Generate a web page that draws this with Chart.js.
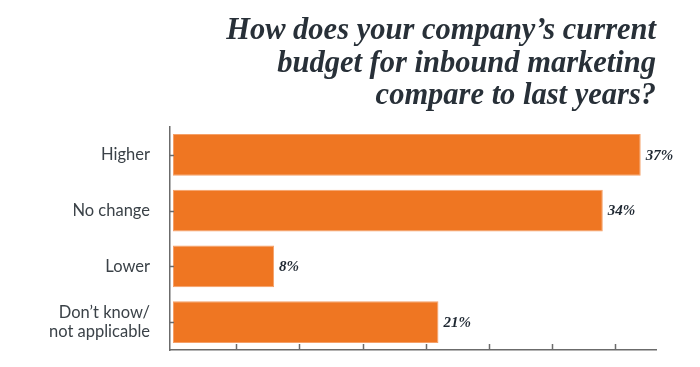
<!DOCTYPE html>
<html><head><meta charset="utf-8">
<script src="https://cdn.jsdelivr.net/npm/chart.js@4"></script>
<style>html,body{margin:0;padding:0;background:#fff}</style>
</head><body><canvas id="c" width="700" height="367"></canvas>
<script>
const categories = [["Higher"], ["No change"], ["Lower"], ["Don\u2019t know/", "not applicable"]];
const values = [37, 34, 8, 21];
const valueLabels = ["37%", "34%", "8%", "21%"];
const titleLines = ["How does your company\u2019s current", "budget for inbound marketing", "compare to last years?"];

const axisColor = '#6b6b6b';

const innerTicks = {
  id: 'innerTicks',
  afterDraw(chart) {
    const ctx = chart.ctx, xs = chart.scales.x, ys = chart.scales.y, ca = chart.chartArea;
    ctx.save();
    ctx.strokeStyle = axisColor; ctx.lineWidth = 1.5;
    xs.ticks.forEach(t => {
      if (t.value <= 0) return;
      const x = Math.round(xs.getPixelForValue(t.value)) + 0.5;
      ctx.beginPath(); ctx.moveTo(x, ca.bottom); ctx.lineTo(x, ca.bottom - 6); ctx.stroke();
    });
    ys.ticks.forEach((t, i) => {
      const y = Math.round(ys.getPixelForTick(i)) + 0.5;
      ctx.beginPath(); ctx.moveTo(ca.left, y); ctx.lineTo(ca.left + 4, y); ctx.stroke();
    });
    ctx.fillStyle = '#1e2731';
    ctx.font = 'bold italic 15px "Liberation Serif", "DejaVu Serif", serif';
    ctx.textBaseline = 'middle';
    const meta = chart.getDatasetMeta(0);
    meta.data.forEach((bar, i) => {
      ctx.fillText(valueLabels[i], bar.x + 5, bar.y + 1);
    });
    ctx.restore();
  }
};

new Chart(document.getElementById('c'), {
  type: 'bar',
  data: {
    labels: categories,
    datasets: [{
      data: values,
      backgroundColor: '#EF7622',
      borderColor: '#F5A068',
      borderWidth: 1,
      borderSkipped: false,
      barPercentage: 0.75,
      categoryPercentage: 1.0
    }]
  },
  options: {
    indexAxis: 'y',
    responsive: false,
    animation: false,
    devicePixelRatio: 1,
    layout: { padding: { left: 0, right: 44, top: 0, bottom: 15 } },
    plugins: {
      legend: { display: false },
      tooltip: { enabled: false },
      title: {
        display: true,
        text: titleLines,
        align: 'end',
        color: '#283038',
        font: { family: '"Liberation Serif", "DejaVu Serif", serif', size: 30.5, weight: 'bold', style: 'italic', lineHeight: 1.07 },
        padding: { top: 15, bottom: 14 }
      }
    },
    scales: {
      x: {
        min: -0.237, max: 38.21,
        ticks: { display: false, stepSize: 5 },
        afterBuildTicks(s) { s.ticks = [5, 10, 15, 20, 25, 30, 35].map(v => ({ value: v })); },
        grid: { display: false, drawOnChartArea: false, drawTicks: false },
        border: { display: true, color: axisColor, width: 1.5 },
        afterFit(s) { s.height = 2; s.paddingLeft = 0; s.paddingRight = 0; }
      },
      y: {
        ticks: { color: '#3b4248', font: { family: 'Lato, "Open Sans", sans-serif', size: 16.5, lineHeight: 1.2 }, padding: 20 },
        grid: { display: false, drawOnChartArea: false, drawTicks: false },
        border: { display: true, color: axisColor, width: 1.5 },
        afterFit(s) { s.width = 170; s.paddingTop = 0; s.paddingBottom = 0; }
      }
    }
  },
  plugins: [innerTicks]
});
</script></body></html>
